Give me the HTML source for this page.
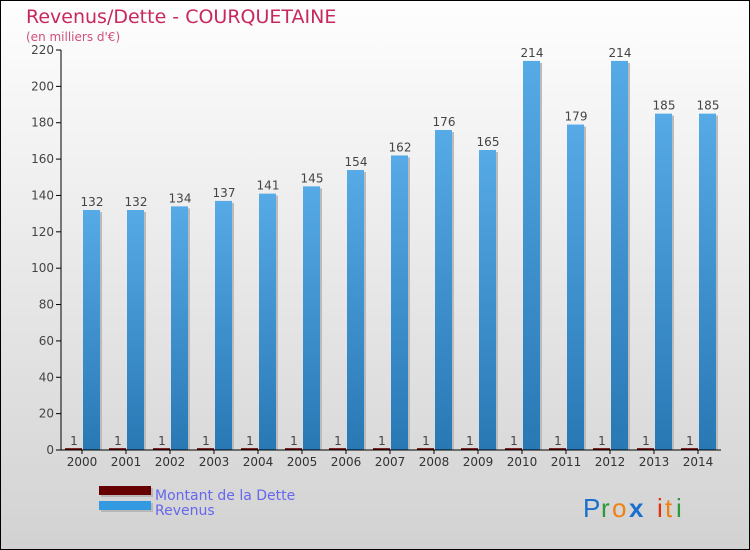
<!DOCTYPE html>
<html><head><meta charset="utf-8"><style>
body{margin:0;}
#wrap{position:relative;width:748px;height:548px;border:1px solid #000;background:linear-gradient(#fefefe,#d2d2d2);font-family:"DejaVu Sans","Liberation Sans",sans-serif;overflow:hidden}
</style></head><body>
<div id="wrap">
<svg id="chart" width="748" height="548" xmlns="http://www.w3.org/2000/svg">
<defs>
<linearGradient id="rev" x1="0" y1="0" x2="0" y2="1"><stop offset="0" stop-color="#56aae6"/><stop offset="1" stop-color="#2878b4"/></linearGradient>
</defs>
<text x="25" y="22" font-size="19" fill="#c8285f">Revenus/Dette - COURQUETAINE</text>
<text x="25" y="40" font-size="12" fill="#d0507a">(en milliers d'€)</text>
<g id="plot"></g>
<rect x="100" y="487" width="52" height="9" fill="#999" opacity="0.5"/>
<rect x="98" y="485" width="52" height="9" fill="#660000"/>
<rect x="100" y="502" width="52" height="9" fill="#999" opacity="0.5"/>
<rect x="98" y="500" width="52" height="9" fill="#3399e0"/>
<text x="154" y="499" font-size="14" fill="#6666ee">Montant de la Dette</text>
<text x="154" y="514" font-size="14" fill="#6666ee">Revenus</text>
<g font-size="26" font-family="Liberation Sans,sans-serif">
<text x="582" y="516" fill="#1a6fcc">P</text><text x="600" y="516" fill="#2a9a3a">r</text><text x="611" y="516" fill="#f08010">o</text><text x="628" y="516" fill="#1a6fcc" font-weight="bold">x</text><text x="656" y="516" fill="#e03010">i</text><text x="664" y="516" fill="#f08010">t</text><text x="675" y="516" fill="#2a9a3a">i</text>
</g>
</svg>
</div>
<script>
const years=["2000","2001","2002","2003","2004","2005","2006","2007","2008","2009","2010","2011","2012","2013","2014"];
const revenus=[132,132,134,137,141,145,154,162,176,165,214,179,214,185,185];
const dette=[1,1,1,1,1,1,1,1,1,1,1,1,1,1,1];
const yTicks=[0,20,40,60,80,100,120,140,160,180,200,220];
const NS="http://www.w3.org/2000/svg";
const g=document.getElementById('plot');
const y0=449,yTop=49,ymax=220;
const ys=v=>y0-(v/ymax)*(y0-yTop);
const xc=i=>81+i*44;
function mk(t,a,txt){const e=document.createElementNS(NS,t);for(const k in a)e.setAttribute(k,a[k]);if(txt!==undefined)e.textContent=txt;g.appendChild(e);return e;}
yTicks.forEach(v=>{
 const t=mk('line',{x1:55,x2:60,y1:ys(v),y2:ys(v),stroke:'#000'});
 
 
 const l=mk('text',{x:53,y:ys(v)+4,'font-size':12,fill:'#444','text-anchor':'end'},v);
 
 
});
years.forEach((yr,i)=>{
 const c=xc(i);
 const d=mk('rect',{x:c-17,y:ys(dette[i]),width:17,height:y0-ys(dette[i]),fill:'#660000'});
 
 
 const sh=mk('rect',{x:c+18,y:ys(revenus[i])+2,width:2,height:y0-ys(revenus[i])-2,fill:'#bbb'});
 const r=mk('rect',{x:c+1,y:ys(revenus[i]),width:17,height:y0-ys(revenus[i]),fill:'url(#rev)'});
 
 
 const lv=mk('text',{x:c+10,y:ys(revenus[i])-4,'font-size':12,fill:'#444','text-anchor':'middle'},revenus[i]);
 
 
 const ld=mk('text',{x:c-8,y:ys(dette[i])-3,'font-size':12,fill:'#444','text-anchor':'middle'},dette[i]);
 
 
 const tk=mk('line',{x1:c,x2:c,y1:y0,y2:y0+4,stroke:'#000'});
 const xl=mk('text',{x:c,y:y0+16,'font-size':12,fill:'#333','text-anchor':'middle'},yr);
 
 
});
const ya=mk('line',{x1:60,x2:60,y1:yTop,y2:y0,stroke:'#000'});


const xa=mk('line',{x1:60,x2:720,y1:y0,y2:y0,stroke:'#000'});


</script>
</body></html>
